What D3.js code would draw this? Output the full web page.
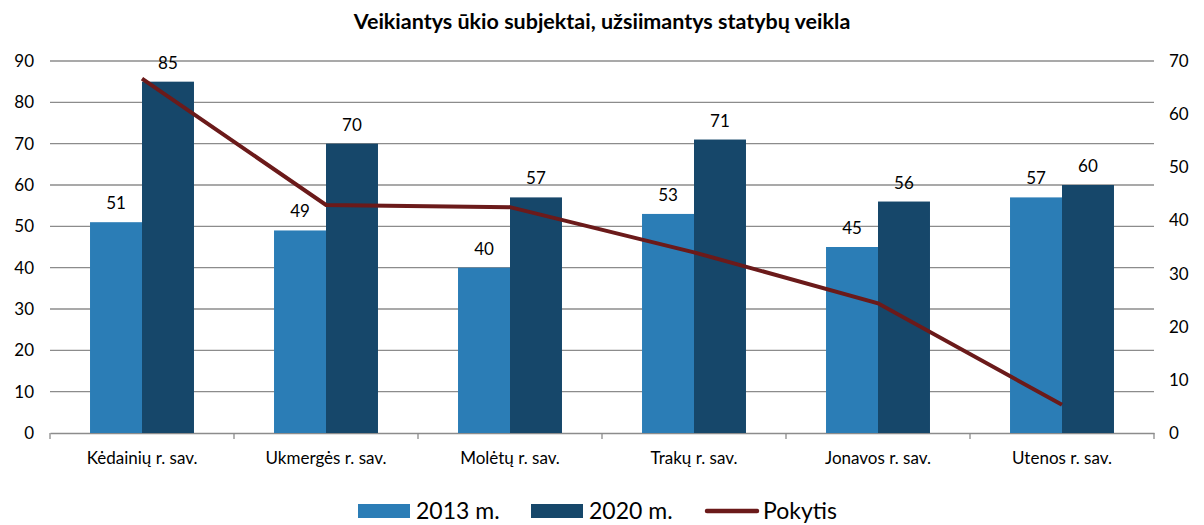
<!DOCTYPE html>
<html>
<head>
<meta charset="utf-8">
<script src="https://cdn.jsdelivr.net/npm/d3@7"></script>
<style>
  body { margin: 0; background: #fff; }
  svg text { font-family: Lato, "Open Sans", sans-serif; fill: #000; }
</style>
</head>
<body>
<div id="chart"></div>
<script>
// chart data
const categories = ["Kėdainių r. sav.", "Ukmergės r. sav.", "Molėtų r. sav.", "Trakų r. sav.", "Jonavos r. sav.", "Utenos r. sav."];
const values2013 = [51, 49, 40, 53, 45, 57];
const values2020 = [85, 70, 57, 71, 56, 60];
const pokytis = [66.7, 42.9, 42.5, 34.0, 24.4, 5.3];
const leftTicks = [0, 10, 20, 30, 40, 50, 60, 70, 80, 90];
const rightTicks = [0, 10, 20, 30, 40, 50, 60, 70];
const seriesNames = ["2013 m.", "2020 m.", "Pokytis"];
const colors = ["#2b7db6", "#16476a", "#6b1a1a"];

const width = 1204, height = 525;
const margin = { top: 61, right: 50, bottom: 92, left: 50 };

const svg = d3.select("#chart").append("svg")
    .attr("width", width)
    .attr("height", height);

const x = d3.scaleBand()
    .domain(categories)
    .range([margin.left, width - margin.right])
    .paddingInner(0.435)
    .paddingOuter(0.2175);

const xSub = d3.scaleBand()
    .domain([0, 1])
    .range([0, x.bandwidth()]);

const yLeft = d3.scaleLinear().domain([0, 90]).range([height - margin.bottom, margin.top]);
const yRight = d3.scaleLinear().domain([0, 70]).range([height - margin.bottom, margin.top]);

// title
svg.append("text")
    .attr("x", width / 2)
    .attr("y", 29)
    .attr("text-anchor", "middle")
    .style("font-size", "21.5px")
    .style("font-weight", "bold")
    .text("Veikiantys ūkio subjektai, užsiimantys statybų veikla");

// gridlines
svg.append("g")
    .selectAll("line")
    .data(leftTicks.slice(1))
    .enter()
    .append("line")
    .attr("x1", margin.left)
    .attr("x2", width - margin.right)
    .attr("y1", d => yLeft(d))
    .attr("y2", d => yLeft(d))
    .attr("stroke", "#8c8c8c")
    .attr("stroke-width", 1.3);

// left axis
const leftAxis = svg.append("g")
    .attr("transform", `translate(${margin.left},0)`)
    .call(d3.axisLeft(yLeft).tickValues(leftTicks).tickSize(0).tickPadding(16));
leftAxis.select(".domain").remove();
leftAxis.selectAll("text").style("font-size", "17px");

// right axis
const rightAxis = svg.append("g")
    .attr("transform", `translate(${width - margin.right},0)`)
    .call(d3.axisRight(yRight).tickValues(rightTicks).tickSize(0).tickPadding(15));
rightAxis.select(".domain").remove();
rightAxis.selectAll("text").style("font-size", "17px");

// bottom axis
const bottomAxis = svg.append("g")
    .attr("transform", `translate(0,${height - margin.bottom})`)
    .call(d3.axisBottom(x).tickSize(0).tickPadding(19));
bottomAxis.select(".domain").attr("stroke", "#8c8c8c").attr("stroke-width", 1.3);
bottomAxis.selectAll("text").style("font-size", "17px");

// category separator ticks
const step = x.step();
const edges = d3.range(categories.length + 1).map(i => margin.left + i * step);
svg.append("g")
    .selectAll("line")
    .data(edges)
    .enter()
    .append("line")
    .attr("x1", d => d)
    .attr("x2", d => d)
    .attr("y1", height - margin.bottom)
    .attr("y2", height - margin.bottom + 6)
    .attr("stroke", "#8c8c8c")
    .attr("stroke-width", 1.3);

// bars
const groups = svg.append("g")
    .selectAll("g")
    .data(categories)
    .enter()
    .append("g")
    .attr("transform", d => `translate(${x(d)},0)`);

[values2013, values2020].forEach((vals, si) => {
    groups.append("rect")
        .attr("x", xSub(si))
        .attr("width", xSub.bandwidth())
        .attr("y", (d, i) => yLeft(vals[i]))
        .attr("height", (d, i) => yLeft(0) - yLeft(vals[i]))
        .attr("fill", colors[si]);

    groups.append("text")
        .attr("x", xSub(si) + xSub.bandwidth() / 2)
        .attr("y", (d, i) => yLeft(vals[i]) - 13)
        .attr("text-anchor", "middle")
        .style("font-size", "17px")
        .text((d, i) => vals[i]);
});

// line
const line = d3.line()
    .x((d, i) => x(categories[i]) + x.bandwidth() / 2)
    .y(d => yRight(d));

svg.append("path")
    .datum(pokytis)
    .attr("d", line)
    .attr("fill", "none")
    .attr("stroke", colors[2])
    .attr("stroke-width", 4);

// legend
const legendY = 511;
const legendItems = [
    { x: 358, type: "rect" },
    { x: 531, type: "rect" },
    { x: 705, type: "line" }
];
const legend = svg.append("g");
legendItems.forEach((item, i) => {
    if (item.type === "rect") {
        legend.append("rect")
            .attr("x", item.x)
            .attr("y", legendY - 7)
            .attr("width", 52)
            .attr("height", 14)
            .attr("fill", colors[i]);
    } else {
        legend.append("line")
            .attr("x1", item.x + 2)
            .attr("x2", item.x + 52)
            .attr("y1", legendY)
            .attr("y2", legendY)
            .attr("stroke", colors[i])
            .attr("stroke-width", 4.5)
            .attr("stroke-linecap", "round");
    }
    legend.append("text")
        .attr("x", item.x + 58)
        .attr("y", legendY)
        .attr("dy", "0.35em")
        .style("font-size", "23px")
        .text(seriesNames[i]);
});
</script>
</body>
</html>
